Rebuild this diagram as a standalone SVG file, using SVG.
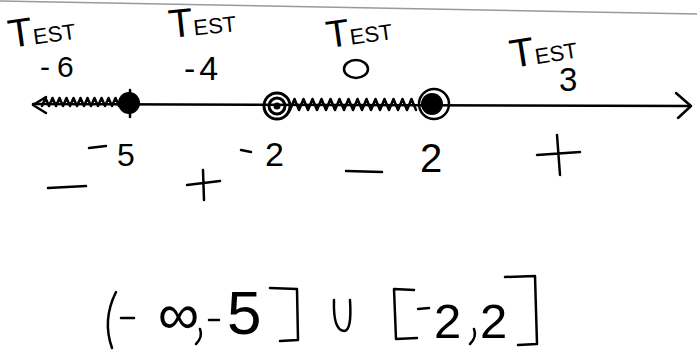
<svg xmlns="http://www.w3.org/2000/svg" width="697" height="350" viewBox="0 0 697 350">
<style>
.t{font-family:"Liberation Sans",Arial,sans-serif;fill:#000}
.ink{fill:none;stroke:#000;stroke-width:2.5;stroke-linecap:round;stroke-linejoin:round}
</style>
<rect width="697" height="350" fill="#fff"/>
<line x1="0" y1="1" x2="697" y2="14" stroke="#999" stroke-width="1.5"/>

<g id="test-labels">
  <text class="t" transform="translate(10,48) rotate(-8)"><tspan font-size="40">T</tspan><tspan font-size="22">EST</tspan></text>
  <text class="t" x="40" y="77" font-size="30" letter-spacing="7">-6</text>
  <text class="t" transform="translate(170,38) rotate(-6)"><tspan font-size="40">T</tspan><tspan font-size="22">EST</tspan></text>
  <text class="t" x="184" y="80" font-size="34" letter-spacing="4">-4</text>
  <text class="t" transform="translate(328,48) rotate(-8)"><tspan font-size="38">T</tspan><tspan font-size="22">EST</tspan></text>
  <ellipse cx="356" cy="69" rx="12" ry="9" fill="none" stroke="#000" stroke-width="2.5"/>
  <text class="t" transform="translate(512,68) rotate(-9)"><tspan font-size="40">T</tspan><tspan font-size="22">EST</tspan></text>
  <text class="t" x="559" y="91" font-size="33">3</text>
</g>

<g id="connectors">
  <path class="ink" d="M33,104 L690,106"/>
  <path class="ink" d="M46,97 L33,105 L46,113"/>
  <path class="ink" d="M676,93 L691,106 L678,118"/>
  <path class="ink" d="M42,106 l3.5,-8 l3.5,8 l3.5,-8 l3.5,8 l3.5,-8 l3.5,8 l3.5,-8 l3.5,8 l3.5,-8 l3.5,8 l3.5,-8 l3.5,8 l3.5,-8 l3.5,8 l3.5,-8 l3.5,8 l3.5,-8 l3.5,8 l3.5,-8 l3.5,8 l3.5,-8 l3.5,8 l3.5,-8 l3.5,8"/>
  <path class="ink" d="M290,110 l4.5,-11 l4.5,11 l4.5,-11 l4.5,11 l4.5,-11 l4.5,11 l4.5,-11 l4.5,11 l4.5,-11 l4.5,11 l4.5,-11 l4.5,11 l4.5,-11 l4.5,11 l4.5,-11 l4.5,11 l4.5,-11 l4.5,11 l4.5,-11 l4.5,11 l4.5,-11 l4.5,11 l4.5,-11 l4.5,11 l4.5,-11 l4.5,11 l4.5,-11 l4.5,11"/>
</g>

<g id="point-neg5">
  <circle cx="129" cy="103" r="11" fill="#000"/>
  <path class="ink" d="M130,90 L130,117"/>
</g>
<g id="point-neg2">
  <circle cx="277" cy="106" r="13" fill="none" stroke="#000" stroke-width="3"/>
  <circle cx="277" cy="106" r="8" fill="none" stroke="#000" stroke-width="3"/>
  <circle cx="277" cy="106" r="3.5" fill="#000"/>
</g>
<g id="point-2">
  <circle cx="434" cy="104" r="15" fill="none" stroke="#000" stroke-width="2.5"/>
  <circle cx="432" cy="104" r="11" fill="#000"/>
</g>

<g id="tick-labels">
  <path class="ink" d="M89,148 L106,146"/>
  <text class="t" x="117" y="166" font-size="32">5</text>
  <path class="ink" d="M241,150 L251,152"/>
  <text class="t" x="265" y="166" font-size="34">2</text>
  <text class="t" x="420" y="172" font-size="40">2</text>
</g>

<g id="signs">
  <path class="ink" d="M48,188 L86,186"/>
  <path class="ink" d="M187,185 L220,181 M203,170 L204,200"/>
  <path class="ink" d="M346,171 L382,172"/>
  <path class="ink" d="M537,155 L580,152 M557,135 L560,175"/>
</g>

<g id="answer">
  <path class="ink" d="M116,292 Q102,320 112,348"/>
  <path class="ink" d="M121,318 L134,318"/>
  <text class="t" x="158" y="334" font-size="58">∞</text>
  <path class="ink" d="M200,329 Q203,337 196,344"/>
  <path class="ink" d="M209,320 L219,320"/>
  <text class="t" x="227" y="334" font-size="62">5</text>
  <path class="ink" d="M270,288 L297,289 L298,340 L280,341"/>
  <path class="ink" d="M334,300 Q333,330 344,331 Q352,331 350,300"/>
  <path class="ink" d="M414,290 L394,289 L396,339 L417,338"/>
  <path class="ink" d="M418,309 L429,308"/>
  <text class="t" x="434" y="338" font-size="49">2</text>
  <path class="ink" d="M474,329 Q477,337 470,344"/>
  <text class="t" x="480" y="338" font-size="49">2</text>
  <path class="ink" d="M505,277 L535,276 L537,344 L518,345"/>
</g>
</svg>
